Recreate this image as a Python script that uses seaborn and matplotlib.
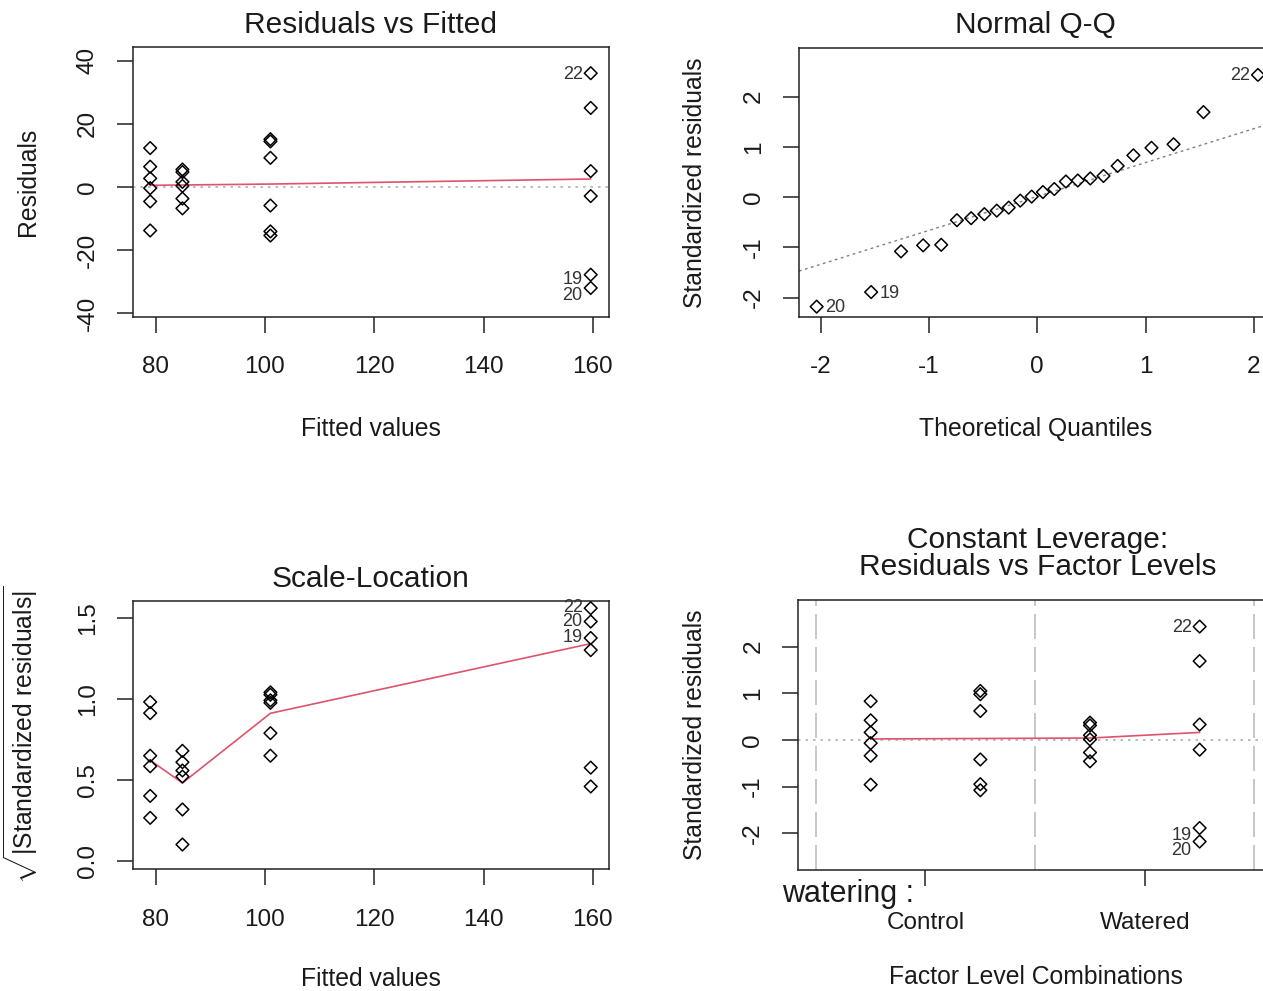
import numpy as np
import pandas as pd
import matplotlib
matplotlib.use("Agg")
import matplotlib.pyplot as plt
import seaborn as sns

# ---------------- data ----------------
group_fitted = [79.0, 84.9, 101.0, 159.6]
group_combo_pos = [0, 2, 1, 3]          # position on the factor-level axis
obs_g1 = [1, 2, 3, 4, 5, 6]
obs_g2 = [13, 14, 15, 16, 17, 18]
obs_g3 = [7, 8, 9, 10, 11, 12]
obs_g4 = [22, 23, 24, 21, 19, 20]

resid_g1 = [12.3, 6.4, 2.7, -0.4, -4.6, -13.8]
resid_g2 = [5.5, 4.7, 1.6, 0.3, -3.7, -6.8]
resid_g3 = [15.1, 14.4, 9.2, -5.9, -14.1, -15.4]
resid_g4 = [36.0, 25.0, 5.0, -2.9, -27.8, -32.0]

std_g1 = [0.83, 0.42, 0.16, -0.07, -0.34, -0.96]
std_g2 = [0.37, 0.31, 0.10, 0.01, -0.27, -0.46]
std_g3 = [1.05, 0.98, 0.62, -0.42, -0.95, -1.08]
std_g4 = [2.43, 1.69, 0.33, -0.21, -1.89, -2.18]

theo_quantiles = [-2.037, -1.534, -1.258, -1.054, -0.887, -0.742, -0.611, -0.489,
                  -0.374, -0.264, -0.157, -0.052, 0.052, 0.157, 0.264, 0.374,
                  0.489, 0.611, 0.742, 0.887, 1.054, 1.258, 1.534, 2.037]

smooth_resid = [0.5, 0.6, 0.9, 2.5]        # at group_fitted
smooth_scale = [0.62, 0.48, 0.91, 1.34]    # at group_fitted
smooth_levels = [0.02, 0.03, 0.04, 0.16]   # at combo positions 0..3
combo_positions = [0, 1, 2, 3]
qq_intercept, qq_slope = 0.012, 0.675

level_labels = ["Control", "Watered"]
level_ticks = [0.5, 2.5]
level_vlines = [-0.5, 1.5, 3.5]
labelled_obs = [22, 19, 20]

# ---------------- build table ----------------
rows = []
for fv, pos, ids, rs, ss in zip(group_fitted, group_combo_pos,
                                [obs_g1, obs_g2, obs_g3, obs_g4],
                                [resid_g1, resid_g2, resid_g3, resid_g4],
                                [std_g1, std_g2, std_g3, std_g4]):
    for i, r, s in zip(ids, rs, ss):
        rows.append(dict(obs=i, fitted=fv, combo=pos, resid=r, std=s))
df = pd.DataFrame(rows)
df["sqrt_abs_std"] = np.sqrt(np.abs(df["std"]))
qq = df.sort_values("std").reset_index(drop=True)
qq["theo"] = theo_quantiles

# ---------------- style ----------------
sns.set_theme(style="white")
plt.rcParams["font.family"] = ["Liberation Sans", "DejaVu Sans"]
plt.rcParams["mathtext.fontset"] = "custom"
plt.rcParams["mathtext.rm"] = "Liberation Sans"
plt.rcParams["mathtext.it"] = "Liberation Sans"
plt.rcParams["axes.unicode_minus"] = False

W, H = 1263, 991
fig = plt.figure(figsize=(W / 100, H / 100), dpi=100)
fig.patch.set_facecolor("white")

TXT = "#1a1a1a"
RED = "#DF536B"
PT = 0.72  # points per pixel
TICK_FS = 17.5
LAB_FS = 17.8
TITLE_FS = 21.5
ID_FS = 13


def add_ax(left, top, right, bottom):
    return fig.add_axes([left / W, 1 - bottom / H, (right - left) / W, (bottom - top) / H])


def style_ax(ax):
    for sp in ax.spines.values():
        sp.set_linewidth(1.1)
        sp.set_color("#222222")
        sp.set_visible(True)
    ax.tick_params(axis="both", which="major", direction="out", length=11.5, width=1.1,
                   color="#222222", labelsize=TICK_FS, labelcolor=TXT,
                   bottom=True, left=True, top=False, right=False)
    ax.tick_params(axis="x", pad=17)
    ax.tick_params(axis="y", pad=13, labelrotation=90)
    for lab in ax.get_yticklabels():
        lab.set_va("center")
    ax.set_xlabel("")
    ax.set_ylabel("")
    ax.grid(False)


def scatter(ax, x, y, data):
    sns.scatterplot(data=data, x=x, y=y, ax=ax, marker="D", s=42,
                    facecolors="none", edgecolor="black", linewidth=1.1,
                    legend=False, zorder=3)


def label_points(ax, data, x, y, side, offsets):
    for oid, dy in zip(labelled_obs, offsets):
        row = data[data["obs"] == oid].iloc[0]
        dx = -8 if side == "left" else 8
        ax.annotate(str(oid), (row[x], row[y]), xytext=(dx * PT, dy * PT),
                    textcoords="offset points", fontsize=ID_FS, color="#333333",
                    ha="right" if side == "left" else "left", va="center",
                    annotation_clip=False, zorder=4)


def ftext(x, y, s, size, rot=0, ha="center", va="baseline"):
    fig.text(x / W, 1 - y / H, s, fontsize=size, color=TXT, rotation=rot,
             rotation_mode="anchor", ha=ha, va=va)


# ---------------- Panel 1: Residuals vs Fitted ----------------
ax1 = add_ax(132.7, 47.3, 609.3, 316.7)
ax1.axhline(0, color="#B0B0B0", lw=1.2, ls=(0, (1.5, 3)), zorder=1)
sns.lineplot(x=group_fitted, y=smooth_resid, ax=ax1, color=RED, lw=1.2,
             estimator=None, sort=False, zorder=2)
scatter(ax1, "fitted", "resid", df)
ax1.set_xlim(75.8, 163.0)
ax1.set_ylim(-41.1, 44.2)
ax1.set_xticks([80, 100, 120, 140, 160])
ax1.set_yticks([-40, -20, 0, 20, 40])
style_ax(ax1)
label_points(ax1, df, "fitted", "resid", "left", [-1, -5, -8])

# ---------------- Panel 2: Normal Q-Q ----------------
ax2 = add_ax(799, 48.3, 1275.6, 316.7)
ax2.axline((0, qq_intercept), slope=qq_slope, color="#808080", lw=1.0,
           ls=(0, (2, 2.5)), zorder=1)
scatter(ax2, "theo", "std", qq)
ax2.set_xlim(-2.2, 2.2)
ax2.set_ylim(-2.38, 2.96)
ax2.set_xticks([-2, -1, 0, 1, 2])
ax2.set_yticks([-2, -1, 0, 1, 2])
style_ax(ax2)
for oid in labelled_obs:
    row = qq[qq["obs"] == oid].iloc[0]
    side = "left" if row["theo"] > 0 else "right"
    dx = -8 if side == "left" else 8
    ax2.annotate(str(oid), (row["theo"], row["std"]), xytext=(dx * PT, -1 * PT),
                 textcoords="offset points", fontsize=ID_FS, color="#333333",
                 ha="right" if side == "left" else "left", va="center",
                 annotation_clip=False, zorder=4)

# ---------------- Panel 3: Scale-Location ----------------
ax3 = add_ax(132.7, 600.7, 609.3, 869.3)
sns.lineplot(x=group_fitted, y=smooth_scale, ax=ax3, color=RED, lw=1.2,
             estimator=None, sort=False, zorder=2)
scatter(ax3, "fitted", "sqrt_abs_std", df)
ax3.set_xlim(75.8, 163.0)
ax3.set_ylim(-0.053, 1.605)
ax3.set_xticks([80, 100, 120, 140, 160])
ax3.set_yticks([0.0, 0.5, 1.0, 1.5])
ax3.set_yticklabels(["0.0", "0.5", "1.0", "1.5"])
style_ax(ax3)
label_points(ax3, df, "fitted", "sqrt_abs_std", "left", [1, 0, 0])

# ---------------- Panel 4: Constant Leverage ----------------
ax4 = add_ax(798.3, 600, 1272, 870)
for v in level_vlines:
    ax4.axvline(v, color="#BEBEBE", lw=1.2, ls=(0, (15, 4.8)), zorder=1)
ax4.axhline(0, color="#B0B0B0", lw=1.2, ls=(0, (1.5, 3)), zorder=1)
sns.lineplot(x=combo_positions, y=smooth_levels, ax=ax4, color=RED, lw=1.2,
             estimator=None, sort=False, zorder=2)
scatter(ax4, "combo", "std", df)
ax4.set_xlim(-0.66, 3.66)
ax4.set_ylim(-2.79, 3.0)
ax4.set_xticks(level_ticks)
ax4.set_xticklabels(level_labels)
ax4.set_yticks([-2, -1, 0, 1, 2])
style_ax(ax4)
ax4.tick_params(axis="x", pad=19)
label_points(ax4, df, "combo", "std", "left", [-1, -7, -9])

# ---------------- texts ----------------
ftext(371, 33.3, "Residuals vs Fitted", TITLE_FS)
ftext(1035, 33.3, "Normal Q-Q", TITLE_FS)
ftext(371, 587, "Scale-Location", TITLE_FS)
ftext(1038, 548, "Constant Leverage:", TITLE_FS)
ftext(1038, 575, "Residuals vs Factor Levels", TITLE_FS)

ftext(371, 436, "Fitted values", LAB_FS)
ftext(1036, 436, "Theoretical Quantiles", LAB_FS)
ftext(371, 986, "Fitted values", LAB_FS)
ftext(1036, 984, "Factor Level Combinations", LAB_FS)

ftext(35, 182, "Residuals", LAB_FS, rot=90)
ftext(702, 182.5, "Standardized residuals", LAB_FS, rot=90)
ftext(33, 735, r"$\sqrt{|\mathrm{Standardized\ residuals}|}$", LAB_FS, rot=90)
ftext(702, 735, "Standardized residuals", LAB_FS, rot=90)
ftext(781.7, 901.7, "watering :", 22, ha="left")

fig.savefig("out.png", dpi=100, facecolor="white")
